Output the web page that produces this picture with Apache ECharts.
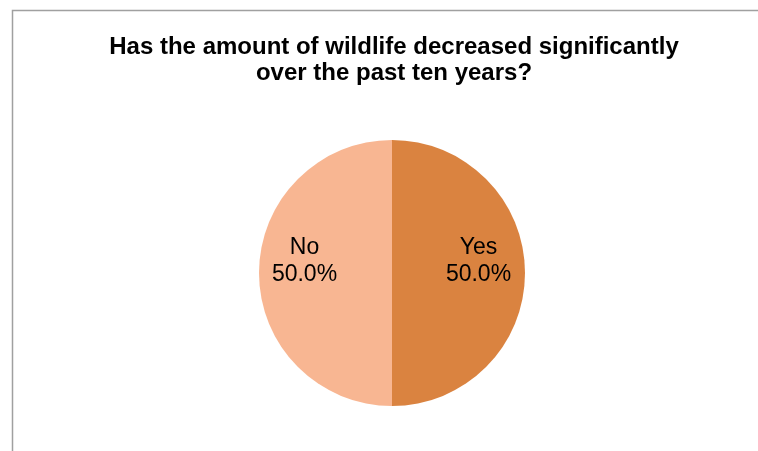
<!DOCTYPE html>
<html><head><meta charset="utf-8">
<script src="https://cdn.jsdelivr.net/npm/echarts@6/dist/echarts.min.js"></script>
<style>html,body{margin:0;padding:0;background:#fff}#c{width:758px;height:451px}</style>
</head><body><div id="c"></div>
<script>
const titleText = "Has the amount of wildlife decreased significantly\nover the past ten years?";
const categories = ["Yes", "No"];
const values = [50.0, 50.0];
const colors = ["#DA8340", "#F8B692"];
const labelShift = [[17, -12], [-18, -12]];

const chart = echarts.init(document.getElementById('c'), null, {renderer: 'canvas'});
chart.setOption({
  animation: false,
  backgroundColor: '#fff',
  title: {
    text: titleText,
    left: 389, top: 29, textAlign: 'center',
    textStyle: {fontFamily: 'Arial', fontWeight: 'bold', fontSize: 24, lineHeight: 26, color: '#000'}
  },
  graphic: [{
    type: 'rect', silent: true,
    shape: {x: 12.5, y: 10.5, width: 800, height: 500},
    style: {fill: 'none', stroke: '#a0a0a0', lineWidth: 1.5}
  }],
  series: [{
    type: 'pie',
    center: [392, 273],
    radius: [0, 133],
    startAngle: 90,
    clockwise: true,
    label: {
      show: true, position: 'inside',
      formatter: p => p.name + '\n' + p.value.toFixed(1) + '%',
      fontFamily: 'Arial', fontSize: 23, lineHeight: 27, color: '#000'
    },
    labelLine: {show: false},
    emphasis: {disabled: true},
    itemStyle: {borderWidth: 0},
    data: categories.map((n, i) => ({
      name: n, value: values[i],
      itemStyle: {color: colors[i]},
      label: {offset: labelShift[i]}
    }))
  }]
});
</script></body></html>
